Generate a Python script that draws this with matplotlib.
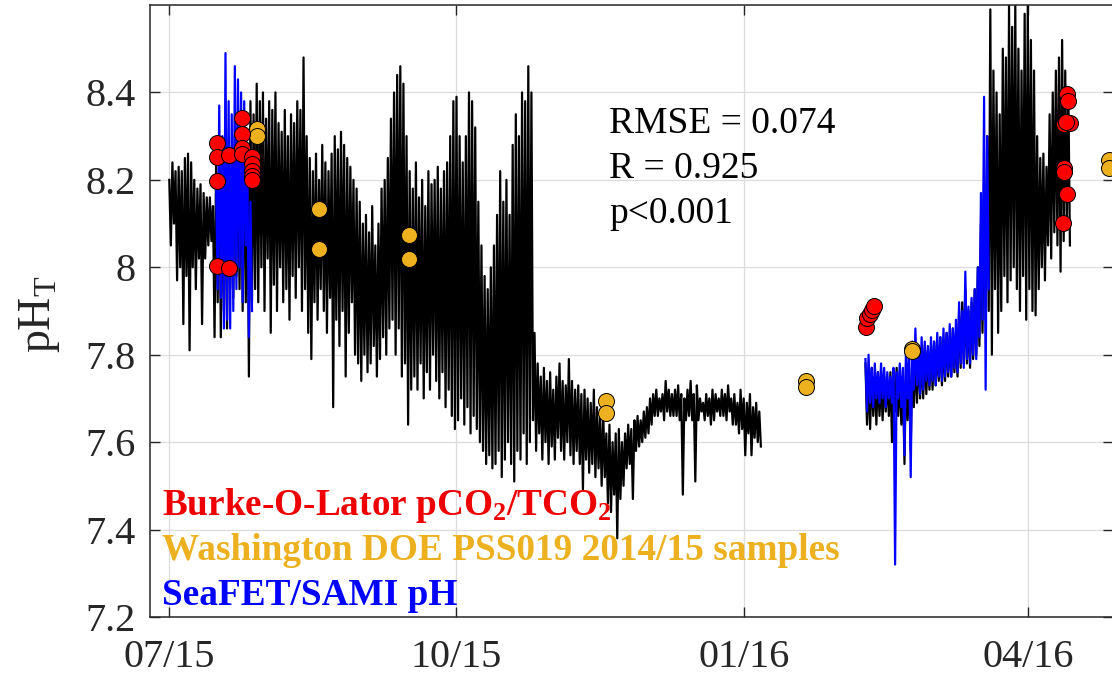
import numpy as np
import matplotlib
matplotlib.use("Agg")
import matplotlib.pyplot as plt
import matplotlib.dates as mdates
from datetime import datetime

plt.rcParams['font.family'] = ['Liberation Serif', 'DejaVu Serif']
plt.rcParams['mathtext.fontset'] = 'custom'
plt.rcParams['mathtext.rm'] = 'Liberation Serif'
plt.rcParams['mathtext.it'] = 'Liberation Serif:italic'
plt.rcParams['mathtext.bf'] = 'Liberation Serif:bold'

t0 = datetime(2015, 7, 1)

# mooring pH, daily high and low, days counted from 2015-07-01
ph_a_start = 0
ph_a_hi = [8.20, 8.24, 8.22, 8.23, 8.22, 8.25, 8.26, 8.24, 8.20, 8.18,
           8.19, 8.17, 8.16, 8.16, 8.14, 8.25, 8.28, 8.24, 8.30, 8.27,
           8.22, 8.30, 8.28, 8.32, 8.30, 8.28, 8.38, 8.35, 8.42, 8.38,
           8.40, 8.34, 8.38, 8.36, 8.40, 8.33, 8.31, 8.36, 8.30, 8.35,
           8.33, 8.38, 8.36, 8.48, 8.30, 8.25, 8.22, 8.26, 8.20, 8.28,
           8.24, 8.22, 8.26, 8.30, 8.27, 8.31, 8.28, 8.25, 8.23, 8.20,
           8.18, 8.15, 8.10, 8.12, 8.08, 8.14, 8.05, 8.10, 8.18, 8.20,
           8.25, 8.34, 8.40, 8.44, 8.46, 8.42, 8.30, 8.22, 8.18, 8.24,
           8.16, 8.20, 8.14, 8.22, 8.19, 8.20, 8.23, 8.18, 8.22, 8.24,
           8.30, 8.38, 8.39, 8.30, 8.24, 8.30, 8.40, 8.38, 8.32, 8.15,
           8.05, 7.98, 7.95, 8.00, 8.05, 8.12, 8.22, 8.15, 8.20, 8.12,
           8.28, 8.35, 8.30, 8.40, 8.38, 8.46, 8.40, 7.85, 7.78, 7.75,
           7.77, 7.74, 7.76, 7.72, 7.75, 7.78, 7.74, 7.73, 7.79, 7.74,
           7.72, 7.73, 7.71, 7.72, 7.70, 7.69, 7.72, 7.68, 7.66, 7.67,
           7.62, 7.64, 7.60, 7.62, 7.63, 7.60, 7.62, 7.64, 7.63, 7.65,
           7.66, 7.65, 7.67, 7.68, 7.70, 7.71, 7.72, 7.70, 7.71, 7.74,
           7.72, 7.71, 7.72, 7.73, 7.71, 7.70, 7.72, 7.74, 7.71, 7.73,
           7.70, 7.69, 7.71, 7.70, 7.72, 7.71, 7.70, 7.72, 7.71, 7.73,
           7.70, 7.71, 7.69, 7.72, 7.70, 7.69, 7.71, 7.68, 7.69, 7.67]
ph_a_lo = [8.05, 8.10, 7.97, 8.00, 7.87, 7.98, 7.81, 8.00, 7.95, 8.02,
           7.87, 8.02, 8.05, 8.06, 7.84, 7.92, 7.84, 7.90, 7.86, 7.95,
           7.93, 7.98, 7.95, 7.90, 7.92, 7.75, 7.92, 7.95, 7.92, 8.00,
           7.90, 8.02, 7.85, 7.96, 7.90, 8.00, 7.92, 7.95, 7.88, 7.98,
           7.93, 8.00, 7.90, 7.95, 7.85, 7.79, 7.92, 7.88, 7.95, 7.90,
           7.85, 7.93, 7.68, 7.88, 7.82, 7.90, 7.75, 7.85, 7.92, 7.80,
           7.78, 7.74, 7.80, 7.76, 7.78, 7.82, 7.75, 7.79, 7.84, 7.80,
           7.86, 7.88, 7.80, 7.86, 7.75, 7.78, 7.64, 7.72, 7.75, 7.72,
           7.78, 7.70, 7.76, 7.72, 7.80, 7.74, 7.70, 7.76, 7.68, 7.72,
           7.66, 7.63, 7.65, 7.70, 7.64, 7.68, 7.62, 7.66, 7.63, 7.60,
           7.58, 7.55, 7.57, 7.54, 7.55, 7.58, 7.52, 7.56, 7.60, 7.55,
           7.51, 7.58, 7.56, 7.62, 7.55, 7.60, 7.65, 7.58, 7.62, 7.56,
           7.60, 7.55, 7.59, 7.56, 7.61, 7.58, 7.56, 7.60, 7.57, 7.55,
           7.58, 7.55, 7.49, 7.56, 7.53, 7.55, 7.52, 7.54, 7.50, 7.52,
           7.46, 7.44, 7.48, 7.38, 7.47, 7.50, 7.54, 7.55, 7.47, 7.58,
           7.59, 7.60, 7.61, 7.62, 7.64, 7.66, 7.66, 7.67, 7.65, 7.67,
           7.66, 7.66, 7.66, 7.65, 7.48, 7.65, 7.66, 7.65, 7.51, 7.65,
           7.67, 7.65, 7.66, 7.64, 7.65, 7.67, 7.66, 7.66, 7.65, 7.67,
           7.64, 7.64, 7.62, 7.63, 7.57, 7.62, 7.57, 7.61, 7.60, 7.59]

ph_b_start = 223
ph_b_hi = [7.78, 7.76, 7.77, 7.75, 7.76, 7.74, 7.75, 7.74, 7.76, 7.75,
           7.77, 7.76, 7.75, 7.78, 7.77, 7.79, 7.80, 7.81, 7.80, 7.82,
           7.81, 7.82, 7.83, 7.82, 7.84, 7.83, 7.85, 7.84, 7.86, 7.85,
           7.90, 7.92, 7.95, 7.90, 7.92, 7.95, 8.00, 8.10, 8.20, 8.30,
           8.59, 8.45, 8.40, 8.35, 8.50, 8.48, 8.60, 8.55, 8.60, 8.50,
           8.45, 8.58, 8.60, 8.52, 8.45, 8.30, 8.25, 8.26, 8.23, 8.35,
           8.40, 8.45, 8.48, 8.52, 8.45, 8.40]
ph_b_lo = [7.64, 7.63, 7.66, 7.64, 7.66, 7.65, 7.67, 7.66, 7.60, 7.67,
           7.66, 7.64, 7.55, 7.65, 7.58, 7.68, 7.69, 7.70, 7.70, 7.71,
           7.72, 7.72, 7.73, 7.74, 7.73, 7.74, 7.75, 7.75, 7.76, 7.75,
           7.77, 7.78, 7.78, 7.77, 7.79, 7.80, 7.82, 7.85, 7.88, 7.90,
           7.80, 7.95, 7.85, 7.90, 7.98, 7.92, 7.97, 8.00, 7.95, 7.90,
           7.98, 7.88, 7.95, 7.90, 7.89, 7.95, 8.00, 7.97, 8.05, 8.02,
           8.08, 8.05, 7.99, 8.06, 8.10, 8.05]

# SeaFET/SAMI pH, daily high and low
sf_a_start = 15
sf_a_hi = [8.20, 8.37, 8.30, 8.49, 8.38, 8.35, 8.46, 8.43, 8.40, 8.38,
           8.22, 8.15]
sf_a_lo = [7.95, 7.93, 7.86, 7.88, 7.86, 7.90, 7.95, 8.00, 7.92, 8.05,
           7.84, 7.90]
sf_b_start = 223
sf_b_hi = [7.79, 7.80, 7.77, 7.78, 7.76, 7.78, 7.77, 7.76, 7.75, 7.77,
           7.76, 7.78, 7.77, 7.82, 7.80, 7.83, 7.86, 7.82, 7.84, 7.83,
           7.82, 7.84, 7.83, 7.85, 7.84, 7.86, 7.85, 7.87, 7.86, 7.88,
           7.92, 7.90, 7.99, 7.91, 7.93, 7.95, 8.00, 8.17, 8.39, 8.30]
sf_b_lo = [7.67, 7.69, 7.68, 7.70, 7.69, 7.70, 7.68, 7.70, 7.69, 7.32,
           7.70, 7.68, 7.57, 7.70, 7.52, 7.72, 7.73, 7.71, 7.72, 7.74,
           7.73, 7.74, 7.73, 7.75, 7.74, 7.75, 7.76, 7.75, 7.77, 7.76,
           7.78, 7.77, 7.79, 7.78, 7.80, 7.79, 7.84, 7.88, 7.72, 7.95]

# Burke-O-Lator pCO2/TCO2 samples
bol_day = [15.4, 15.4, 15.4, 15.4, 19.2, 19.2, 23.2, 23.2, 23.4, 23.2,
           26.4, 26.4, 26.4, 26.4, 26.4,
           223.3, 223.6, 224.3, 225.0, 225.8,
           287.5, 287.8, 286.5, 288.6, 287.3, 286.5, 286.5, 287.6, 286.3]
bol_ph = [8.285, 8.253, 8.198, 8.003, 7.998, 8.257, 8.341, 8.306, 8.274, 8.260,
          8.253, 8.236, 8.220, 8.208, 8.200,
          7.863, 7.883, 7.894, 7.903, 7.912,
          8.396, 8.380, 8.327, 8.329, 8.333, 8.228, 8.217, 8.167, 8.101]

# Washington DOE PSS019 bottle samples
doe_day = [28.0, 28.0, 48.0, 48.0, 76.9, 76.9, 139.9, 139.9,
           204.0, 204.0, 238.0, 238.0, 300.9, 300.9]
doe_ph = [8.316, 8.300, 8.133, 8.042, 8.074, 8.019, 7.695, 7.667,
          7.741, 7.726, 7.813, 7.808, 8.245, 8.228]

tick_dates = [datetime(2015, 7, 1), datetime(2015, 10, 1),
              datetime(2016, 1, 1), datetime(2016, 4, 1)]
yticks = [7.2, 7.4, 7.6, 7.8, 8, 8.2, 8.4]

base = mdates.date2num(t0)


def hilo_line(start, hi, lo):
    d = start + np.arange(len(hi))
    t = np.column_stack([d, d + 0.5]).ravel()
    v = np.column_stack([hi, lo]).ravel()
    return base + t, v


dark = '#262626'
fig = plt.figure(figsize=(11.12, 6.78), dpi=100)
ax = fig.add_axes([150 / 1112, 61 / 678, 963 / 1112, 612 / 678])

for start, hi, lo in [(ph_a_start, ph_a_hi, ph_a_lo), (ph_b_start, ph_b_hi, ph_b_lo)]:
    x, y = hilo_line(start, hi, lo)
    ax.plot(x, y, color='k', lw=1.6, zorder=2)
for start, hi, lo in [(sf_a_start, sf_a_hi, sf_a_lo), (sf_b_start, sf_b_hi, sf_b_lo)]:
    x, y = hilo_line(start, hi, lo)
    ax.plot(x, y, color='#0000ff', lw=1.6, zorder=3)

ax.plot(base + np.array(doe_day), doe_ph, 'o', ms=11.5, mfc='#EDB120',
        mec='k', mew=0.7, ls='none', zorder=4)
ax.plot(base + np.array(bol_day), bol_ph, 'o', ms=11.5, mfc='#ff0000',
        mec='k', mew=0.7, ls='none', zorder=5)

ax.set_xlim(base - 6.18, base + 302.3)
ax.set_ylim(7.2, 8.6)
ax.set_xticks(mdates.date2num(tick_dates))
ax.xaxis.set_major_formatter(mdates.DateFormatter('%m/%y'))
ax.set_yticks(yticks)
ax.set_yticklabels(['7.2', '7.4', '7.6', '7.8', '8', '8.2', '8.4'])

ax.grid(True, color='#dcdcdc', lw=0.9)
ax.set_axisbelow(True)
ax.tick_params(direction='in', length=7.5, width=1.0, colors=dark,
               labelsize=29, top=True, right=True)
ax.tick_params(axis='x', pad=15.5)
ax.tick_params(axis='y', pad=10.5)
for s in ax.spines.values():
    s.set_color(dark)
    s.set_linewidth(1.1)

ax.set_ylabel(r'pH$_{\mathrm{T}}$', fontsize=33, color=dark, va='center')
ax.yaxis.set_label_coords((39 - 150) / 963, 0.495)

ax.text(0.4767, 0.7904, 'RMSE = 0.074', transform=ax.transAxes,
        fontsize=27, va='baseline', ha='left', color='k')
ax.text(0.4767, 0.7168, 'R = 0.925', transform=ax.transAxes,
        fontsize=27, va='baseline', ha='left', color='k')
ax.text(0.4767, 0.6443, 'p<0.001', transform=ax.transAxes,
        fontsize=27, va='baseline', ha='left', color='k')

ax.text(0.0125, 0.1667, r'Burke-O-Lator pCO$_\mathbf{2}$/TCO$_\mathbf{2}$',
        transform=ax.transAxes, fontsize=26.8, fontweight='bold',
        color='#ee0000', va='baseline', ha='left')
ax.text(0.0125, 0.0931, 'Washington DOE PSS019 2014/15 samples',
        transform=ax.transAxes, fontsize=26.8, fontweight='bold',
        color='#EDB120', va='baseline', ha='left')
ax.text(0.0125, 0.0196, 'SeaFET/SAMI pH',
        transform=ax.transAxes, fontsize=26.8, fontweight='bold',
        color='#0000ff', va='baseline', ha='left')

fig.savefig('out.png', dpi=100)
